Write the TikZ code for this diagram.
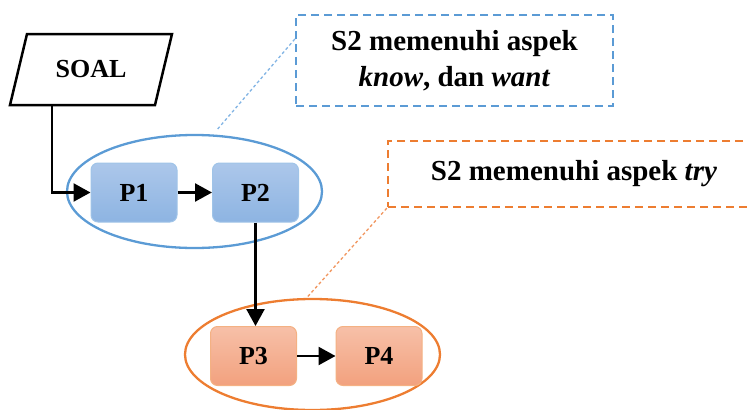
\documentclass[tikz,border=0pt]{standalone}
\usepackage{fontspec}
\setmainfont{Liberation Serif}
\usetikzlibrary{arrows.meta,shapes.geometric,calc}
\definecolor{bl}{RGB}{91,155,213}
\definecolor{bldot}{RGB}{130,180,228}
\definecolor{bltop}{RGB}{172,199,234}
\definecolor{blbot}{RGB}{141,180,226}
\definecolor{blbord}{RGB}{160,196,232}
\definecolor{orc}{RGB}{237,125,49}
\definecolor{ordot}{RGB}{241,150,95}
\definecolor{ortop}{RGB}{247,192,168}
\definecolor{orbot}{RGB}{242,161,126}
\definecolor{orbord}{RGB}{244,177,131}
\begin{document}
\begin{tikzpicture}[x=1pt,y=-1pt,
  arr/.style={line width=2.5pt,-{Triangle[length=17pt,width=18pt]}},
  procb/.style={rounded corners=7pt,minimum width=86pt,minimum height=59pt,inner sep=0pt,
    draw=blbord,line width=1pt,top color=bltop,bottom color=blbot,
    font=\fontsize{26}{30}\selectfont\bfseries},
  proco/.style={procb,draw=orbord,top color=ortop,bottom color=orbot},
  grp/.style={ellipse,line width=2.3pt,minimum width=255pt,inner sep=0pt},
  callout/.style={line width=2.3pt,dash pattern=on 8pt off 5pt,inner sep=0pt,
    font=\fontsize{29}{36}\selectfont\bfseries,align=center},
  link/.style={line width=1.3pt,dash pattern=on 3pt off 2.5pt}
]
\useasboundingbox (0,0) rectangle (748,410);

% SOAL parallelogram
\draw[line width=2.5pt] (27,34) -- (172,34) -- (155,105) -- (10,105) -- cycle;
\node[minimum height=71pt,minimum width=120pt,inner sep=0pt,font=\fontsize{26}{30}\selectfont\bfseries] (soal) at (91,69.5) {SOAL};

% groups
\node[grp,draw=bl,minimum height=113pt] (ellb) at (194.5,191.5) {};
\node[grp,draw=orc,minimum height=111pt] (ello) at (312.5,354.5) {};

% process boxes
\node[procb] (p1) at (134,192.5) {P1};
\node[procb] (p2) at (255.5,192.5) {P2};
\node[proco] (p3) at (253.5,356) {P3};
\node[proco] (p4) at (379,356) {P4};

% callouts
\node[callout,draw=bl,minimum width=317pt,minimum height=91pt] (cb) at (454.5,60.5)
  {S2 memenuhi aspek\\\textit{know}, dan \textit{want}};
\node[callout,draw=orc,minimum width=372pt,minimum height=66pt] (co) at (574,174)
  {S2 memenuhi aspek \textit{try}};

% connectors
\draw[arr] ($(soal.south)+(-39,0)$) |- (p1.west);
\draw[arr] (p1.east) -- (p2.west);
\draw[arr] (p2.south) -- (p2.south |- p3.north);
\draw[arr] (p3.east) -- (p4.west);

\draw[link,draw=bldot,shorten >=6pt] ($(cb.north west)!0.27!(cb.south west)$) -- (ellb.72);
\draw[link,draw=ordot] (co.south west) -- (ello.96);
\end{tikzpicture}
\end{document}
